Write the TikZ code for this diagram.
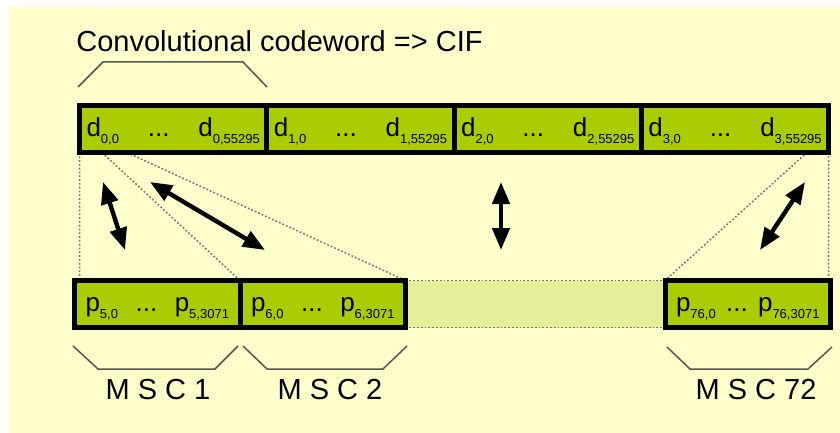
\documentclass[tikz,border=0pt]{standalone}
\usepackage{fontspec}
\setmainfont{Liberation Sans}
\usetikzlibrary{positioning,arrows.meta,backgrounds}
\definecolor{bgyellow}{RGB}{255,255,204}
\definecolor{cellgreen}{RGB}{170,204,0}
\definecolor{gapgreen}{RGB}{229,238,153}
\definecolor{bracegray}{RGB}{85,85,85}
\newcommand\subidx[1]{\raisebox{-3.5pt}{\fontsize{6.5}{7}\selectfont #1}}
\tikzset{
  cell/.style={draw=black, fill=cellgreen, line width=2.5pt, outer sep=0pt, inner xsep=3pt, inner ysep=0pt,
    minimum height=23.5pt, text height=10pt, text depth=3pt, font=\fontsize{13}{15}\selectfont},
  dcell/.style={cell, inner xsep=3.5pt, text width=86.65pt},
  pcell/.style={cell, inner xsep=5.5pt, text width=71.75pt},
  map/.style={draw=black!55, line width=0.75pt, dash pattern=on 0.9pt off 1pt},
  swap/.style={line width=2.2pt, {Triangle[length=11pt,width=8.5pt]}-{Triangle[length=11pt,width=8.5pt]}},
  bracket/.style={draw=bracegray, line width=0.75pt},
  lbl/.style={font=\fontsize{14.5}{17}\selectfont}
}
\begin{document}
\begin{tikzpicture}[x=0.5pt,y=-0.5pt]
  \useasboundingbox (0,0) rectangle (840,433);
  \node (title) at (76,52) [anchor=base west, inner sep=0pt, lbl] {Convolutional codeword => CIF};
  \draw[bracket] (78,87) -- (103,62) -- (243,62) -- (267,87);
  \node (d0) at (173.15,129) [dcell] {d\subidx{0,0}\hfill...\hfill d\subidx{0,55295}};
  \node (d1) [dcell, right=0pt of d0] {d\subidx{1,0}\hfill...\hfill d\subidx{1,55295}};
  \node (d2) [dcell, right=0pt of d1] {d\subidx{2,0}\hfill...\hfill d\subidx{2,55295}};
  \node (d3) [dcell, right=0pt of d2] {d\subidx{3,0}\hfill...\hfill d\subidx{3,55295}};
  \node (m1) at (157.25,304) [pcell] {p\subidx{5,0}\hfill...\hfill p\subidx{5,3071}};
  \node (m2) [pcell, right=0pt of m1] {p\subidx{6,0}\hfill...\hfill p\subidx{6,3071}};
  \node (m72) at (747.75,304) [pcell] {p\subidx{76,0}\hfill...\hfill p\subidx{76,3071}};
  \coordinate (s1) at (102,152.5);
  \coordinate (s2) at (127,152.5);
  \coordinate (s3) at (807,152.5);
  \begin{scope}[on background layer]
    \fill[bgyellow] (9,7) rectangle (840,433);
    \fill[gapgreen] (m2.north east) rectangle (m72.south west);
    \draw[map] (m2.north east) -- (m72.north west) (m2.south east) -- (m72.south west);
    \draw[map] (d0.south west) -- (d0.south west |- m1.north) (s1) -- (m1.north east) (s2) -- (m2.north east)
      (s3) -- (m72.north west) (d3.south east) -- (d3.south east |- m72.north);
  \end{scope}
  \coordinate (a1) at (103,182); \coordinate (b1) at (125,250);
  \coordinate (a2) at (150,182); \coordinate (b2) at (265,250);
  \coordinate (a3) at (501,182); \coordinate (b3) at (501,250);
  \coordinate (a4) at (805,182); \coordinate (b4) at (760,250);
  \draw[swap] (a1) -- (b1);
  \draw[swap] (a2) -- (b2);
  \draw[swap] (a3) -- (b3);
  \draw[swap] (a4) -- (b4);
  \draw[bracket] (73,346) -- (98,369) -- (215,369) -- (238,346);
  \draw[bracket] (243,346) -- (267,369) -- (383,369) -- (407,346);
  \draw[bracket] (667,347) -- (690,369) -- (808,369) -- (832,347);
  \node (msc1) at (158,390) [lbl] {M S C 1};
  \node (msc2) at (330,390) [lbl] {M S C 2};
  \node (msc72) at (756,390) [lbl] {M S C 72};
\end{tikzpicture}
\end{document}
